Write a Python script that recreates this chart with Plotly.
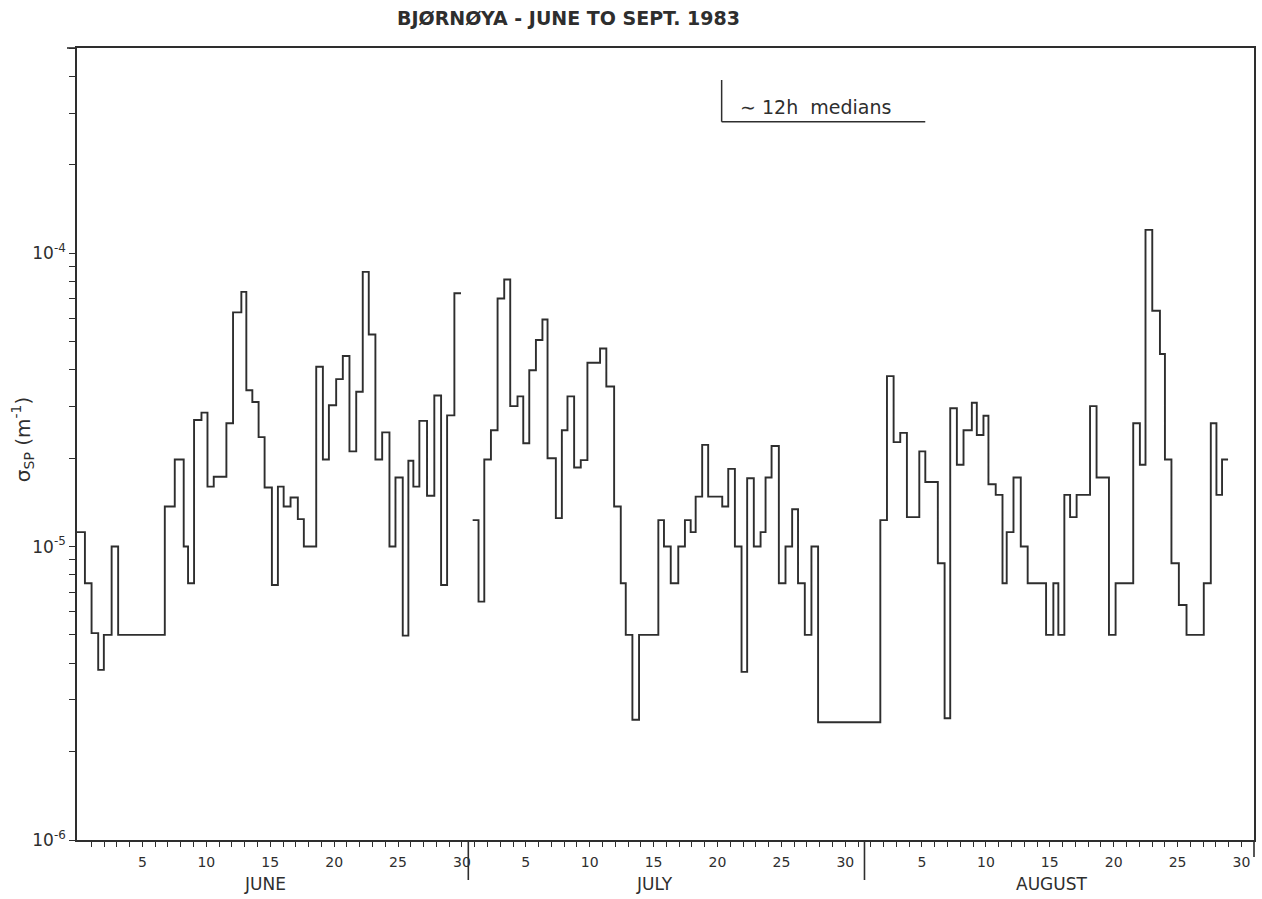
import plotly.graph_objects as go

# ---- data: ~12h medians of sigma_sp (m^-1); time in days since 1 June 1983 00:00 ----
june_t = [-0.62, 0.00, 0.52, 1.04, 1.48, 2.09, 2.60, 6.25, 7.03, 7.73, 8.07, 8.54, 9.12, 9.59,
          10.08, 11.07, 11.59, 12.24, 12.63, 13.10, 13.59, 14.06, 14.63, 15.10, 15.55, 16.09,
          16.66, 17.13, 18.10, 18.62, 19.09, 19.66, 20.18, 20.70, 21.23, 21.74, 22.21, 22.73,
          23.26, 23.83, 24.30, 24.87, 25.31, 25.70, 26.17, 26.77, 27.34, 27.87, 28.34, 28.91]
june_v = [1.12e-5, 7.5e-6, 5.07e-6, 3.8e-6, 5.0e-6, 1.0e-5, 5.0e-6, 1.37e-5, 1.98e-5, 1.0e-5,
          7.5e-6, 2.7e-5, 2.86e-5, 1.6e-5, 1.73e-5, 2.63e-5, 6.28e-5, 7.38e-5, 3.41e-5, 3.11e-5,
          2.36e-5, 1.59e-5, 7.4e-6, 1.6e-5, 1.37e-5, 1.47e-5, 1.24e-5, 1.0e-5, 4.1e-5, 1.98e-5,
          3.03e-5, 3.72e-5, 4.46e-5, 2.11e-5, 3.37e-5, 8.63e-5, 5.28e-5, 1.98e-5, 2.45e-5, 1.0e-5,
          1.72e-5, 4.97e-6, 1.96e-5, 1.6e-5, 2.68e-5, 1.49e-5, 3.27e-5, 7.4e-6, 2.8e-5, 7.3e-5]
june_end = 29.43

julaug_t = [30.34, 30.80, 31.25, 31.77, 32.29, 32.81, 33.28, 33.85, 34.30, 34.77, 35.29, 35.80,
            36.20, 36.85, 37.32, 37.76, 38.28, 38.80, 39.32, 40.31, 40.80, 41.41, 41.93, 42.32,
            42.84, 43.36, 44.87, 45.31, 45.84, 46.43, 46.95, 47.40, 47.79, 48.30, 48.77, 49.87,
            50.34, 50.86, 51.38, 51.82, 52.34, 52.87, 53.26, 53.73, 54.30, 54.82, 55.34, 55.80,
            56.33, 56.85, 57.37, 62.24, 62.76, 63.28, 63.80, 64.32, 65.29, 65.76, 66.74, 67.27,
            67.71, 68.23, 68.75, 69.40, 69.79, 70.31, 70.70, 71.27, 71.80, 72.13, 72.66, 73.23,
            73.77, 75.21, 75.78, 76.17, 76.64, 77.09, 77.60, 78.65, 79.16, 80.13, 80.65, 82.03,
            82.55, 82.99, 83.52, 84.12, 84.51, 85.02, 85.60, 86.20, 87.55, 88.10, 88.54, 88.98]
julaug_v = [1.23e-5, 6.49e-6, 1.98e-5, 2.49e-5, 7.0e-5, 8.13e-5, 3.01e-5, 3.25e-5, 2.25e-5,
            3.99e-5, 5.06e-5, 5.94e-5, 2.0e-5, 1.25e-5, 2.49e-5, 3.25e-5, 1.86e-5, 1.97e-5,
            4.23e-5, 4.73e-5, 3.51e-5, 1.37e-5, 7.5e-6, 5.0e-6, 2.57e-6, 5.0e-6, 1.23e-5, 1.0e-5,
            7.5e-6, 1.0e-5, 1.23e-5, 1.12e-5, 1.48e-5, 2.22e-5, 1.48e-5, 1.37e-5, 1.84e-5, 1.0e-5,
            3.74e-6, 1.71e-5, 1.0e-5, 1.12e-5, 1.72e-5, 2.2e-5, 7.5e-6, 1.0e-5, 1.34e-5, 7.5e-6,
            5.0e-6, 1.0e-5, 2.52e-6, 1.23e-5, 3.81e-5, 2.27e-5, 2.44e-5, 1.26e-5, 2.11e-5, 1.66e-5,
            8.77e-6, 2.6e-6, 2.96e-5, 1.9e-5, 2.49e-5, 3.09e-5, 2.4e-5, 2.79e-5, 1.63e-5, 1.5e-5,
            7.5e-6, 1.12e-5, 1.72e-5, 1.0e-5, 7.5e-6, 5.0e-6, 7.5e-6, 5.0e-6, 1.5e-5, 1.26e-5,
            1.5e-5, 3.01e-5, 1.72e-5, 5.0e-6, 7.5e-6, 2.63e-5, 1.9e-5, 1.2e-4, 6.36e-5, 4.53e-5,
            1.98e-5, 8.77e-6, 6.32e-6, 5.0e-6, 7.5e-6, 2.63e-5, 1.5e-5, 1.98e-5]
julaug_end = 89.45

months = ["JUNE", "JULY", "AUGUST"]
month_start = [0, 30, 61]
month_len = [30, 31, 31]
day_labels = [5, 10, 15, 20, 25, 30]
decades = [-6, -5, -4]

XMIN, XMAX = -0.62, 91.48
YMIN, YMAX = 1e-6, 5e-4
INK = "#2e2e2e"
FONT = "DejaVu Sans"

x = june_t + [june_end, None] + julaug_t + [julaug_end]
y = june_v + [june_v[-1], None] + julaug_v + [julaug_v[-1]]

fig = go.Figure()
fig.add_trace(go.Scatter(x=x, y=y, mode="lines", connectgaps=False,
                         line=dict(shape="hv", color=INK, width=1.9),
                         hoverinfo="skip", showlegend=False))

xt_vals, xt_text = [], []
for s, L in zip(month_start, month_len):
    for n in range(1, L + 1):
        c = s + n - 0.5
        if XMIN < c < XMAX:
            xt_vals.append(c)
            xt_text.append(str(n) if n in day_labels else "")

yt_vals, yt_text = [], []
for e in decades:
    for m in range(1, 10):
        v = m * 10.0 ** e
        if v <= YMAX * 1.0001:
            yt_vals.append(v)
            yt_text.append("10<sup>-%d</sup>" % (-e) if m == 1 else "")

fig.update_layout(
    width=1262, height=899,
    margin=dict(l=77, r=6, t=48, b=59),
    paper_bgcolor="white", plot_bgcolor="white",
    font=dict(family=FONT, color=INK),
    xaxis=dict(range=[XMIN, XMAX], showgrid=False, zeroline=False,
               showline=True, linecolor=INK, linewidth=1.6, mirror=True,
               tickmode="array", tickvals=xt_vals, ticktext=xt_text, tickangle=0,
               ticks="outside", ticklen=5, tickwidth=1.2, tickcolor=INK,
               tickfont=dict(size=14, family=FONT, color=INK), ticklabelstandoff=3),
    yaxis=dict(type="log", range=[-6, 0.69897 - 4], showgrid=False, zeroline=False,
               showline=True, linecolor=INK, linewidth=1.6, mirror=True,
               tickmode="array", tickvals=yt_vals, ticktext=yt_text, tickangle=0,
               ticks="outside", ticklen=6, tickwidth=1.2, tickcolor=INK,
               tickfont=dict(size=17, family=FONT, color=INK)),
)

# month boundaries, frame extensions
shapes = []
for s in month_start[1:]:
    shapes.append(dict(type="line", xref="x", yref="paper", x0=s, x1=s, y0=0, y1=-0.0505,
                       line=dict(color=INK, width=1.6)))
shapes.append(dict(type="line", xref="paper", yref="paper", x0=1, x1=1, y0=0, y1=-0.0215,
                   line=dict(color=INK, width=1.6)))
shapes.append(dict(type="line", xref="paper", yref="paper", x0=-0.0085, x1=0, y0=1, y1=1,
                   line=dict(color=INK, width=1.6)))
# legend bracket
shapes.append(dict(type="line", xref="paper", yref="paper", x0=0.5477, x1=0.5477,
                   y0=0.9596, y1=0.9069, line=dict(color=INK, width=1.5)))
shapes.append(dict(type="line", xref="paper", yref="paper", x0=0.5477, x1=0.7207,
                   y0=0.9069, y1=0.9069, line=dict(color=INK, width=1.5)))
fig.update_layout(shapes=shapes)

ann = []
ann.append(dict(text="<b>BJØRNØYA - JUNE TO SEPT. 1983</b>", xref="paper", yref="paper",
                x=0.4173, y=1.0379, xanchor="center", yanchor="middle", showarrow=False,
                font=dict(size=19, family=FONT, color=INK)))
ann.append(dict(text="∼ 12h  medians", xref="paper", yref="paper", x=0.5615, y=0.9259,
                xanchor="left", yanchor="middle", showarrow=False,
                font=dict(size=19, family=FONT, color=INK)))
ann.append(dict(text="σ<sub>SP</sub> (m<sup>-1</sup>)", xref="paper", yref="paper",
                x=-0.0466, y=0.505, xanchor="center", yanchor="middle", textangle=-90,
                showarrow=False, font=dict(size=20, family=FONT, color=INK)))
for name, s, L in zip(months, month_start, month_len):
    ann.append(dict(text=name, xref="x", yref="paper", x=s + L / 2 - 0.9, y=-0.0556,
                    xanchor="center", yanchor="middle", showarrow=False,
                    font=dict(size=17, family=FONT, color=INK)))
fig.update_layout(annotations=ann)

fig.write_html("out.html")
